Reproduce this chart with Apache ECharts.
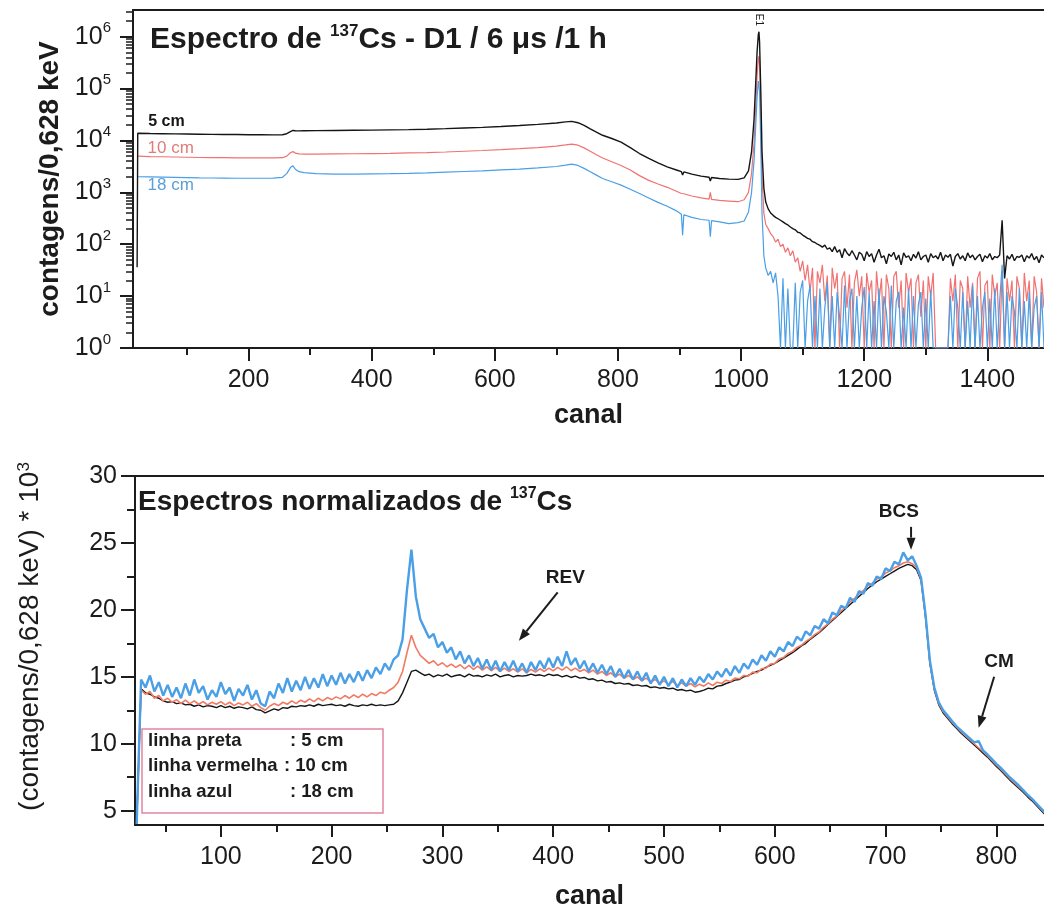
<!DOCTYPE html>
<html><head><meta charset="utf-8">
<script src="https://cdn.jsdelivr.net/npm/echarts@6/dist/echarts.min.js"></script>
<style>html,body{margin:0;padding:0;background:#fff}#c{width:1044px;height:912px}</style>
</head><body><div id="c"></div>
<script>
// ---------------- DATA ----------------
// Top panel: counts per channel (log scale). Body channels explicit, tail channels regular.
const topChannelsBody = [19,20,40,60,80,100,120,140,160,180,200,220,240,255,262,268,272,276,282,290,
  310,340,370,400,430,460,490,520,550,580,610,640,670,700,715,725,735,745,755,765,
  775,790,805,820,835,850,865,880,895,903,905,907,920,935,948,950,952,965,980,995,
  1005,1012,1017,1021,1024,1026,1028,1029,1030,1032,1034,1037,1040,1044,1048];
const top5Body = [36,13800,13600,13500,13400,13300,13200,13100,13000,13000,12900,12900,12800,12900,13500,14800,15600,15400,15300,15400,
  15500,15600,15700,15800,16000,16200,16500,16900,17400,17900,18600,19400,20400,21700,22800,23300,22000,19500,16800,14500,
  12600,10900,9300,7300,5600,4500,3700,3100,2700,2500,2150,2480,2250,2050,1950,1650,1930,1850,1800,1780,
  1900,2600,6000,25000,150000,520000,1100000,1250000,800000,90000,6000,1200,650,480,400];
const top10Body = [null,5000,4900,4850,4800,4750,4700,4650,4650,4600,4600,4600,4600,4650,5000,5800,6100,5700,5500,5450,
  5450,5500,5550,5600,5650,5750,5850,6000,6200,6400,6650,6950,7300,7800,8200,8500,8100,7200,6200,5300,
  4600,3900,3300,2700,2100,1700,1450,1250,1050,950,880,940,850,780,740,1000,730,700,680,660,
  720,1000,2300,9000,50000,180000,380000,420000,280000,30000,2000,400,240,200,160];
const top18Body = [null,2000,1980,1960,1940,1920,1900,1890,1880,1870,1870,1870,1880,1950,2300,3000,3250,2800,2500,2400,
  2300,2250,2250,2280,2300,2330,2380,2450,2520,2600,2700,2800,2950,3150,3350,3500,3300,2900,2500,2150,
  1850,1600,1380,1150,950,780,640,540,440,380,150,370,330,300,290,140,285,270,250,260,
  280,420,1000,4000,22000,70000,140000,150000,90000,8000,400,60,35,25,30];
const topTailStart = 1052, topTailStep = 4;
const top5Tail = [360,330,310,290,270,250,235,215,200,190,
  170,165,150,140,130,125,112,108,100,95,
  88,96,80,85,72,90,70,78,55,82,
  68,60,75,62,50,70,64,48,72,58,
  66,45,62,80,55,60,42,65,58,70,
  50,62,40,68,56,60,48,64,54,72,
  50,58,62,45,66,55,60,52,70,48,
  62,56,64,38,58,66,52,60,48,68,
  55,62,50,58,64,46,60,54,66,50,
  58,55,62,290,22,60,52,64,48,58,
  56,62,46,60,54,66,50,58,44,62,
  55];
const top10Tail = [140,110,125,90,100,70,85,60,75,45,
  55,30,48,20,40,12,35,1,30,18,
  40,8,25,1,35,14,28,1,22,30,
  6,26,1,18,32,10,24,1,28,12,
  20,1,30,8,22,1,26,14,1,24,
  30,6,20,1,28,12,22,1,18,26,
  4,20,1,24,10,28,1,1,1,1,
  1,1,22,8,26,1,20,14,1,24,
  6,18,1,22,30,1,16,20,1,26,
  10,18,1,30,1,22,8,20,1,24,
  14,1,28,8,20,1,24,12,1,22,
  6];
const top18Tail = [18,28,10,1,22,1,14,1,1,18,
  1,12,20,1,8,16,1,10,1,14,
  1,6,18,1,10,1,12,4,1,16,
  1,8,14,1,10,1,6,15,1,12,
  1,8,1,14,1,10,5,1,16,1,
  8,12,1,6,1,14,1,10,1,7,
  12,1,9,1,13,1,1,1,1,1,
  1,1,10,1,14,6,1,12,1,8,
  1,16,1,10,1,6,12,1,9,1,
  14,1,8,40,1,12,1,10,5,1,
  14,1,8,1,12,1,6,10,1,12,
  1];

// Bottom panel: normalized spectra (x10^3), channels 24..844 step 4
const botStart = 24, botStep = 4;
const bot5 = [4.0,14.1,13.8,13.7,13.5,13.4,13.2,13.1,13.15,13.0,
  13.05,12.9,12.95,12.8,12.9,12.75,12.85,12.8,12.7,12.85,
  12.7,12.8,12.65,12.75,12.7,12.6,12.75,12.55,12.5,12.3,
  12.45,12.6,12.5,12.7,12.65,12.8,12.75,12.85,12.8,12.9,
  12.8,12.95,12.85,12.9,12.95,12.85,12.9,12.8,12.95,12.85,
  12.8,12.9,12.85,12.95,12.85,12.9,12.85,12.9,12.95,13.2,
  13.8,14.6,15.4,15.5,15.3,15.1,15.2,15.0,15.15,15.05,
  15.2,15.0,15.1,15.15,15.0,15.2,15.05,15.1,15.0,15.15,
  15.05,15.2,15.0,15.1,15.15,15.0,15.1,15.05,15.1,15.2,
  15.1,15.15,15.05,15.2,15.1,15.15,15.0,15.1,14.95,15.05,
  14.9,14.95,14.8,14.85,14.7,14.75,14.6,14.65,14.5,14.55,
  14.45,14.5,14.35,14.4,14.3,14.35,14.2,14.25,14.15,14.2,
  14.1,14.15,14.0,14.05,13.95,14.0,13.85,13.9,14.0,14.15,
  14.1,14.3,14.35,14.5,14.6,14.75,14.8,15.0,15.1,15.25,
  15.4,15.5,15.7,15.85,16.0,16.2,16.4,16.6,16.8,17.05,
  17.3,17.5,17.8,18.05,18.3,18.6,18.9,19.2,19.5,19.8,
  20.1,20.4,20.7,21.0,21.3,21.6,21.85,22.1,22.3,22.5,
  22.7,22.9,23.1,23.25,23.4,23.3,23.0,22.2,19.5,16.0,
  14.0,12.9,12.3,11.9,11.5,11.15,10.8,10.5,10.2,9.9,
  9.6,9.3,9.0,8.65,8.3,8.0,7.65,7.3,7.0,6.7,
  6.4,6.05,5.75,5.4,5.05,4.7];
const bot10 = [4.0,14.0,13.7,13.9,13.4,13.6,13.2,13.4,13.1,13.3,
  13.0,13.25,13.0,13.2,12.95,13.15,12.9,13.1,12.95,13.15,
  12.9,13.1,12.85,13.05,12.9,13.1,12.8,13.0,12.7,12.5,
  12.8,13.0,12.85,13.1,12.95,13.2,13.0,13.25,13.1,13.35,
  13.15,13.4,13.2,13.45,13.3,13.5,13.35,13.6,13.4,13.65,
  13.45,13.7,13.5,13.75,13.6,13.85,13.75,14.0,14.2,14.6,
  15.4,16.8,18.1,17.2,16.6,16.3,16.0,16.2,15.85,16.05,
  15.75,15.95,15.7,15.9,15.6,15.85,15.55,15.8,15.5,15.75,
  15.45,15.7,15.4,15.65,15.4,15.6,15.35,15.6,15.3,15.55,
  15.35,15.6,15.4,15.65,15.45,15.7,15.5,15.75,15.45,15.65,
  15.4,15.55,15.3,15.5,15.2,15.4,15.1,15.3,15.0,15.2,
  14.9,15.1,14.8,15.0,14.7,14.9,14.6,14.8,14.5,14.7,
  14.45,14.65,14.35,14.55,14.3,14.5,14.25,14.45,14.3,14.55,
  14.35,14.6,14.5,14.75,14.65,14.9,14.85,15.1,15.05,15.35,
  15.3,15.6,15.65,15.95,16.0,16.35,16.45,16.75,16.9,17.2,
  17.35,17.65,17.85,18.15,18.35,18.7,18.95,19.3,19.55,19.95,
  20.2,20.6,20.85,21.2,21.45,21.8,22.0,22.3,22.45,22.75,
  22.9,23.15,23.3,23.5,23.6,23.45,23.15,22.3,19.6,16.1,
  14.1,13.0,12.4,12.0,11.6,11.25,10.9,10.6,10.3,10.0,
  9.7,9.4,9.1,8.75,8.4,8.1,7.75,7.4,7.1,6.8,
  6.5,6.15,5.85,5.5,5.15,4.8];
const bot18 = [4.0,14.8,14.2,15.1,13.9,14.6,13.6,14.4,13.5,14.2,
  13.4,14.5,13.6,14.8,13.8,14.3,13.3,14.0,13.5,14.6,
  13.7,14.2,13.2,14.1,13.6,14.4,13.3,14.0,13.0,12.8,
  13.9,13.4,14.5,13.8,14.9,13.9,14.7,14.0,15.0,14.1,
  14.9,14.2,15.2,14.3,15.1,14.4,15.3,14.5,15.2,14.6,
  15.4,14.7,15.5,14.9,15.7,15.2,16.0,15.5,16.3,16.6,
  17.8,21.5,24.5,21.0,19.3,18.6,17.9,18.2,17.2,17.6,
  16.8,17.2,16.3,16.9,16.0,16.6,15.8,16.4,15.6,16.3,
  15.5,16.2,15.4,16.1,15.5,16.2,15.4,16.0,15.3,16.1,
  15.5,16.2,15.6,16.4,15.7,16.5,15.8,16.9,15.9,16.4,
  15.6,16.2,15.4,16.0,15.3,15.9,15.2,15.8,15.0,15.6,
  14.9,15.5,14.8,15.4,14.7,15.3,14.5,15.1,14.4,15.0,
  14.3,14.9,14.2,14.8,14.3,14.9,14.4,15.0,14.6,15.2,
  14.8,15.4,15.0,15.6,15.1,15.8,15.3,16.0,15.6,16.3,
  15.9,16.6,16.2,16.9,16.5,17.2,16.9,17.6,17.3,18.0,
  17.7,18.4,18.1,18.8,18.6,19.3,19.0,19.8,19.6,20.3,
  20.1,20.9,20.6,21.4,21.2,22.0,21.8,22.5,22.3,23.1,
  22.9,23.6,23.4,24.3,23.7,24.0,23.3,22.4,19.7,16.2,
  14.2,13.1,12.5,12.1,11.7,11.3,11.0,10.7,10.4,10.1,
  10.2,9.5,9.2,8.85,8.5,8.2,7.85,7.5,7.2,6.9,
  6.55,6.2,5.9,5.55,5.2,4.85];

// Tick values
const topXMajor = [200,400,600,800,1000,1200,1400];
const topXMinor = [100,300,500,700,900,1100,1300];
const topYMajor = [1,10,100,1000,10000,100000,1000000];
const botXMajor = [100,200,300,400,500,600,700,800];
const botXMinor = [50,150,250,350,450,550,650,750];
const botYMajor = [5,10,15,20,25,30];
const botYMinor = [7.5,12.5,17.5,22.5,27.5];

// Text
const topTitle = ['Espectro de ', '137', 'Cs - D1 / 6 μs /1 h'];
const botTitle = ['Espectros normalizados de ', '137', 'Cs'];
const seriesNames = ['5 cm', '10 cm', '18 cm'];
const legendRows = [['linha preta', ': 5 cm'], ['linha vermelha', ': 10 cm'], ['linha azul', ': 18 cm']];

// ---------------- BUILD ----------------
const FONT = '"Liberation Sans", Arial, Helvetica, sans-serif';
const INK = '#1c1c1c';
const C_BLACK = '#151515', C_RED = '#f07272', C_BLUE = '#4a9fe6';

const TOP_XMIN = 12.3, TOP_XMAX = 1492, TOP_YMIN = 1, TOP_YMAX = 3.27e6;
const BOT_XMIN = 22.5, BOT_XMAX = 843, BOT_YMIN = 3.93, BOT_YMAX = 30;

const topYMinor = [];
topYMajor.forEach(d => { for (let m = 2; m <= 9; m++) { const v = m * d; if (v < TOP_YMAX) topYMinor.push(v); } });

function topPairs(body, tail) {
  const out = body.map((v, i) => [topChannelsBody[i], v]);
  tail.forEach((v, i) => out.push([topTailStart + i * topTailStep, v]));
  return out;
}
function botPairs(vals) { return vals.map((v, i) => [botStart + i * botStep, v]); }

const lineAx = {show: true, onZero: false, lineStyle: {color: INK, width: 2}};
const tickStyle = {color: INK, width: 2};
const labelBase = {fontSize: 25, color: INK, fontFamily: FONT, formatter: v => String(v)};

const option = {
  animation: false,
  backgroundColor: '#ffffff',
  grid: [
    {left: 133, top: 10, right: 0, bottom: 912 - 348},
    {left: 135, top: 476, right: 0, bottom: 912 - 825}
  ],
  xAxis: [
    {gridIndex: 0, type: 'value', position: 'bottom', min: TOP_XMIN, max: TOP_XMAX,
     axisLine: lineAx, axisTick: {show: true, customValues: topXMajor, length: 13, lineStyle: tickStyle},
     axisLabel: Object.assign({customValues: topXMajor, margin: 20}, labelBase), splitLine: {show: false},
     name: 'canal', nameLocation: 'middle', nameGap: 54,
     nameTextStyle: {fontSize: 27, fontWeight: 'bold', color: INK, fontFamily: FONT}},
    {gridIndex: 0, type: 'value', position: 'bottom', min: TOP_XMIN, max: TOP_XMAX,
     axisLine: {show: false}, axisTick: {show: true, customValues: topXMinor, length: 7, lineStyle: tickStyle},
     axisLabel: {show: false}, splitLine: {show: false}},
    {gridIndex: 0, type: 'value', position: 'top', min: TOP_XMIN, max: TOP_XMAX,
     axisLine: lineAx, axisTick: {show: false}, axisLabel: {show: false}, splitLine: {show: false}},
    {gridIndex: 1, type: 'value', position: 'bottom', min: BOT_XMIN, max: BOT_XMAX,
     axisLine: lineAx, axisTick: {show: true, customValues: botXMajor, length: 12, lineStyle: tickStyle},
     axisLabel: Object.assign({customValues: botXMajor, margin: 20}, labelBase), splitLine: {show: false},
     name: 'canal', nameLocation: 'middle', nameGap: 58,
     nameTextStyle: {fontSize: 27, fontWeight: 'bold', color: INK, fontFamily: FONT}},
    {gridIndex: 1, type: 'value', position: 'bottom', min: BOT_XMIN, max: BOT_XMAX,
     axisLine: {show: false}, axisTick: {show: true, customValues: botXMinor, length: 7, lineStyle: tickStyle},
     axisLabel: {show: false}, splitLine: {show: false}},
    {gridIndex: 1, type: 'value', position: 'top', min: BOT_XMIN, max: BOT_XMAX,
     axisLine: lineAx, axisTick: {show: false}, axisLabel: {show: false}, splitLine: {show: false}}
  ],
  yAxis: [
    {gridIndex: 0, type: 'log', logBase: 10, position: 'left', min: TOP_YMIN, max: TOP_YMAX,
     axisLine: lineAx, axisTick: {show: true, customValues: topYMajor, length: 13, lineStyle: tickStyle},
     axisLabel: {customValues: topYMajor, margin: 22, fontFamily: FONT, color: INK,
       formatter: v => '{b|10}{s|' + Math.round(Math.log10(v)) + '}',
       rich: {b: {fontSize: 25, fontFamily: FONT, color: INK, lineHeight: 32},
              s: {fontSize: 15, fontFamily: FONT, color: INK, verticalAlign: 'top', lineHeight: 15}}},
     splitLine: {show: false},
     name: 'contagens/0,628 keV', nameLocation: 'middle', nameRotate: 90, nameGap: 69,
     nameTextStyle: {fontSize: 28, fontWeight: 'bold', color: INK, fontFamily: FONT}},
    {gridIndex: 0, type: 'log', logBase: 10, position: 'left', min: TOP_YMIN, max: TOP_YMAX,
     axisLine: {show: false}, axisTick: {show: true, customValues: topYMinor, length: 7, lineStyle: {color: INK, width: 1.5}},
     axisLabel: {show: false}, splitLine: {show: false}},
    {gridIndex: 1, type: 'value', position: 'left', min: BOT_YMIN, max: BOT_YMAX,
     axisLine: lineAx, axisTick: {show: true, customValues: botYMajor, length: 14, lineStyle: tickStyle},
     axisLabel: Object.assign({customValues: botYMajor, margin: 18}, labelBase), splitLine: {show: false},
     name: '(contagens/0,628 keV) * 10{s|3}', nameLocation: 'middle', nameRotate: 90, nameGap: 91,
     nameTextStyle: {fontSize: 28, color: INK, fontFamily: FONT, padding: [0, 0, 0, 28],
       rich: {s: {fontSize: 17, color: INK, fontFamily: FONT, verticalAlign: 'top', lineHeight: 17}}}},
    {gridIndex: 1, type: 'value', position: 'left', min: BOT_YMIN, max: BOT_YMAX,
     axisLine: {show: false}, axisTick: {show: true, customValues: botYMinor, length: 8, lineStyle: tickStyle},
     axisLabel: {show: false}, splitLine: {show: false}}
  ],
  series: [
    {type: 'line', name: seriesNames[1], xAxisIndex: 0, yAxisIndex: 0, data: topPairs(top10Body, top10Tail),
     showSymbol: false, symbol: 'none', lineStyle: {color: C_RED, width: 1.2}, z: 3},
    {type: 'line', name: seriesNames[2], xAxisIndex: 0, yAxisIndex: 0, data: topPairs(top18Body, top18Tail),
     showSymbol: false, symbol: 'none', lineStyle: {color: C_BLUE, width: 1.2}, z: 4},
    {type: 'line', name: seriesNames[0], xAxisIndex: 0, yAxisIndex: 0, data: topPairs(top5Body, top5Tail),
     showSymbol: false, symbol: 'none', lineStyle: {color: C_BLACK, width: 1.4}, z: 5},
    {type: 'line', name: seriesNames[0], xAxisIndex: 3, yAxisIndex: 2, data: botPairs(bot5),
     showSymbol: false, symbol: 'none', lineStyle: {color: C_BLACK, width: 1.4}, z: 3},
    {type: 'line', name: seriesNames[1], xAxisIndex: 3, yAxisIndex: 2, data: botPairs(bot10),
     showSymbol: false, symbol: 'none', lineStyle: {color: '#f27a62', width: 1.6}, z: 4},
    {type: 'line', name: seriesNames[2], xAxisIndex: 3, yAxisIndex: 2, data: botPairs(bot18),
     showSymbol: false, symbol: 'none', lineStyle: {color: C_BLUE, width: 2.4}, z: 5}
  ]
};

const chart = echarts.init(document.getElementById('c'), null, {renderer: 'canvas'});
chart.setOption(option);

// ---------------- ANNOTATIONS ----------------
function pT(x, y) { return chart.convertToPixel({xAxisIndex: 0, yAxisIndex: 0}, [x, y]); }
function pB(x, y) { return chart.convertToPixel({xAxisIndex: 3, yAxisIndex: 2}, [x, y]); }

const g = [];
function txt(x, y, text, size, weight, color, align, vAlign, rich, rotation) {
  g.push({type: 'text', x: x, y: y, rotation: rotation || 0, z: 100,
    style: {text: text, fontSize: size, fontWeight: weight, fontFamily: FONT, fill: color,
            align: align || 'left', verticalAlign: vAlign || 'middle', rich: rich}});
}
function arrow(from, to) {
  const dx = to[0] - from[0], dy = to[1] - from[1], L = Math.hypot(dx, dy);
  const ux = dx / L, uy = dy / L, hl = 12, hw = 4.5;
  const bx = to[0] - ux * hl, by = to[1] - uy * hl;
  g.push({type: 'line', z: 100, shape: {x1: from[0], y1: from[1], x2: bx, y2: by}, style: {stroke: INK, lineWidth: 2}});
  g.push({type: 'polygon', z: 100, shape: {points: [[to[0], to[1]], [bx - uy * hw, by + ux * hw], [bx + uy * hw, by - ux * hw]]}, style: {fill: INK}});
}

// titles
const richTitle = (fs) => ({t: {fontSize: fs, fontWeight: 'bold', fontFamily: FONT, fill: INK, lineHeight: fs + 4},
                           s: {fontSize: Math.round(fs * 0.58), fontWeight: 'bold', fontFamily: FONT, fill: INK, verticalAlign: 'top', lineHeight: Math.round(fs * 0.58)}});
txt(150, 40, '{t|' + topTitle[0] + '}{s|' + topTitle[1] + '}{t|' + topTitle[2] + '}', 30, 'bold', INK, 'left', 'middle', richTitle(30));
txt(138, 502, '{t|' + botTitle[0] + '}{s|' + botTitle[1] + '}{t|' + botTitle[2] + '}', 28, 'bold', INK, 'left', 'middle', richTitle(28));

// series labels in top panel
let q = pT(37, 22700); txt(q[0], q[1], seriesNames[0], 16, 'bold', C_BLACK);
q = pT(36, 7160); txt(q[0], q[1], seriesNames[1], 17, 'normal', '#e07c7c');
q = pT(36, 1380); txt(q[0], q[1], seriesNames[2], 17, 'normal', '#5aa0d8');
// E1 marker
q = pT(1029, 2.1e6); txt(q[0], q[1], 'E1', 10, 'normal', INK, 'center', 'middle', null, -Math.PI / 2);

// annotation arrows in bottom panel
const notes = [
  {text: 'REV', label: [411, 22.4], from: [404, 21.3], to: [369, 17.7]},
  {text: 'BCS', label: [712, 27.3], from: [723, 26.2], to: [723, 24.5]},
  {text: 'CM', label: [802.5, 16.1], from: [798, 15.0], to: [784, 11.2]}
];
notes.forEach(n => {
  const l = pB(n.label[0], n.label[1]);
  txt(l[0], l[1], n.text, 19, 'bold', INK, 'center', 'middle');
  arrow(pB(n.from[0], n.from[1]), pB(n.to[0], n.to[1]));
});

// legend box
g.push({type: 'rect', z: 99, shape: {x: 142, y: 729, width: 241, height: 84}, style: {fill: '#ffffff', stroke: '#e4849f', lineWidth: 1.5}});
const rowsY = [741, 766, 792], colX = [290, 284, 290];
legendRows.forEach((r, i) => {
  txt(148, rowsY[i], r[0], 18.5, 'bold', INK);
  txt(colX[i], rowsY[i], r[1], 18.5, 'bold', INK);
});

chart.setOption({graphic: g});
</script></body></html>
